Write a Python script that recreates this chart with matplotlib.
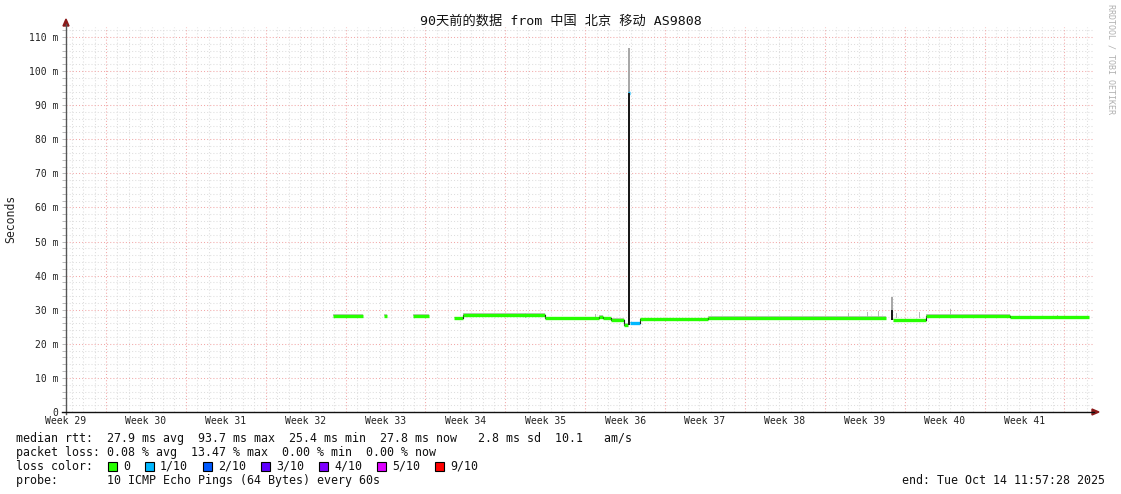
import matplotlib.pyplot as plt
from matplotlib.lines import Line2D
from matplotlib.patches import Polygon, Rectangle

# ==========================================
# CONFIG
# ==========================================
W, H = 1121, 494
plt.rcParams['font.family'] = ['DejaVu Sans Mono', 'Noto Sans CJK SC']

TITLE = "90天前的数据 from 中国 北京 移动 AS9808"
WEEK_LABELS = ["Week 29", "Week 30", "Week 31", "Week 32", "Week 33", "Week 34", "Week 35",
               "Week 36", "Week 37", "Week 38", "Week 39", "Week 40", "Week 41"]
Y_TICKS = [0, 10, 20, 30, 40, 50, 60, 70, 80, 90, 100, 110]
Y_LABELS = ["0", "10 m", "20 m", "30 m", "40 m", "50 m", "60 m", "70 m", "80 m", "90 m", "100 m", "110 m"]

# ==========================================
# DATA  (x = days since Jul 16 11:57:28, y = ms)
# ==========================================
seg_start = [23.42, 27.89, 30.44, 34.00, 34.79, 41.98, 46.71, 47.06, 47.76, 48.90, 49.25, 49.43,
             50.30, 56.26, 72.45, 75.37, 82.73]
seg_end = [26.00, 28.13, 31.79, 34.79, 41.98, 46.71, 47.06, 47.76, 48.90, 49.25, 49.43, 50.30,
           56.26, 71.86, 75.37, 82.73, 89.65]
seg_median = [28.1, 28.3, 28.3, 27.5, 28.4, 27.5, 27.9, 27.5, 27.1, 25.6, 93.7, 26.0,
              27.2, 27.7, 26.9, 28.3, 27.8]
seg_smoke_hi = [28.7, 28.8, 28.8, 28.0, 28.9, 28.0, 28.5, 28.0, 27.6, 26.1, 94.0, 26.5,
                27.7, 28.2, 27.4, 28.7, 28.3]
seg_loss = [0, 0, 0, 0, 0, 0, 0, 0, 0, 0, 1, 1, 0, 0, 0, 0, 0]

# big spikes: dark column + smoke above
spike_day = [49.34, 72.36]
spike_lo = [25.6, 26.9]
spike_hi = [93.7, 30.0]
spike_smoke = [106.7, 33.8]

# small smoke spikes
smoke_day = [40.3, 46.4, 68.6, 70.2, 71.2, 72.8, 74.8, 77.5, 86.9]
smoke_top = [29.1, 28.6, 29.1, 29.2, 29.5, 29.0, 29.4, 30.2, 28.5]

LOSS_LABELS = ["0", "1/10", "2/10", "3/10", "4/10", "5/10", "9/10"]
LOSS_COLORS = ["#26ff00", "#00b8ff", "#0059ff", "#5e00ff", "#7e00ff", "#dd00ff", "#ff0000"]

STATS = [
    "median rtt:  27.9 ms avg  93.7 ms max  25.4 ms min  27.8 ms now   2.8 ms sd  10.1   am/s",
    "packet loss: 0.08 % avg  13.47 % max  0.00 % min  0.00 % now",
    "loss color:",
    "probe:       10 ICMP Echo Pings (64 Bytes) every 60s",
]
END_TEXT = "end: Tue Oct 14 11:57:28 2025"


def fx(x):
    return x / W


def fy(y):
    return 1 - y / H


# ==========================================
# FIGURE
# ==========================================
fig = plt.figure(figsize=(W / 100, H / 100), dpi=100)
ax = fig.add_axes([fx(66), fy(412), (1093 - 66) / W, (412 - 27) / H])
ax.set_xlim(0, 90)
ax.set_ylim(0, 112.93)
for s in ax.spines.values():
    s.set_visible(False)

# grid: days / weeks (Sunday) and 2 ms / 10 ms
dot = (0, (1, 2))
for k in range(90):
    d = 0.5018 + k
    major = (k - 3) % 7 == 0
    ax.axvline(d, color="#f2a8a8" if major else "#dedede", lw=0.75, ls=dot,
               zorder=1 if major else 0)
for v in range(2, 113, 2):
    major = v % 10 == 0
    ax.axhline(v, color="#f2a8a8" if major else "#dedede", lw=0.75, ls=dot,
               zorder=1 if major else 0)

# smoke
for s, e, m, hi in zip(seg_start, seg_end, seg_median, seg_smoke_hi):
    ax.fill_between([s, e], [m, m], [hi, hi], color="#c4c4c4", lw=0, zorder=2)
for d, t in zip(smoke_day, smoke_top):
    ax.bar(d, t - 27.5, bottom=27.5, width=0.09, color="#b8b8b8", lw=0, zorder=2)
for d, lo, hi, top in zip(spike_day, spike_lo, spike_hi, spike_smoke):
    ax.bar(d, top - hi, bottom=hi, width=0.16, color="#a8a8a8", lw=0, zorder=2)
    ax.bar(d, hi - lo, bottom=lo, width=0.16, color="#1a1a1a", lw=0, zorder=4)

# median line coloured by loss
for i, (s, e, m, l) in enumerate(zip(seg_start, seg_end, seg_median, seg_loss)):
    ax.plot([s, e], [m, m], color=LOSS_COLORS[l], lw=2.4, solid_capstyle="butt", zorder=3)
    if i + 1 < len(seg_start) and abs(seg_start[i + 1] - e) < 0.01 and seg_median[i + 1] < 60 and m < 60:
        ax.plot([e, e], [m, seg_median[i + 1]], color="#202020", lw=0.8, zorder=3)

# ticks / labels
ax.set_yticks(Y_TICKS, Y_LABELS)
ax.set_yticks(range(0, 113, 2), minor=True)
ax.tick_params(axis="y", which="both", length=3, color="#bbbbbb", width=0.7, pad=2.5,
               labelsize=7, labelcolor="#222222")
ax.set_xticks([0.0018 + 7 * k for k in range(13)], WEEK_LABELS)
ax.tick_params(axis="x", length=0, pad=3, labelsize=7, labelcolor="#222222")
ax.set_xticks([], minor=True)

fig.text(fx(11), fy(219), "Seconds", rotation=90, ha="center", va="center", fontsize=8.3,
         color="#222222")
fig.text(fx(560.5), fy(21), TITLE, ha="center", va="center", fontsize=9.5, color="#111111")
fig.text(fx(1111), fy(4), "RRDTOOL / TOBI OETIKER", rotation=270, ha="center", va="top",
         fontsize=6.0, color="#b0b0b0")

# axes with arrows
fig.add_artist(Line2D([fx(66), fx(66)], [fy(414), fy(24)], color="#555555", lw=1))
fig.add_artist(Line2D([fx(62), fx(1094)], [fy(412), fy(412)], color="#111111", lw=1))
fig.add_artist(Polygon([(fx(66), fy(19)), (fx(63), fy(26)), (fx(69), fy(26))],
                       closed=True, color="#8b1a1a", transform=fig.transFigure))
fig.add_artist(Polygon([(fx(1099), fy(412)), (fx(1092), fy(409)), (fx(1092), fy(415))],
                       closed=True, color="#8b1a1a", transform=fig.transFigure))

# legend text
for i, line in enumerate(STATS):
    fig.text(fx(16), fy(438 + 14 * i), line, ha="left", va="center", fontsize=8.4, color="#111111")
fig.text(fx(1105), fy(480), END_TEXT, ha="right", va="center", fontsize=8.4, color="#111111")

for i, (lab, col) in enumerate(zip(LOSS_LABELS, LOSS_COLORS)):
    lx = 123 if i == 0 else 160 + 58 * (i - 1)
    fig.add_artist(Rectangle((fx(lx - 15), fy(470.5)), 9 / W, 9 / H, facecolor=col,
                             edgecolor="#000000", lw=0.8, transform=fig.transFigure))
    fig.text(fx(lx), fy(466), lab, ha="left", va="center", fontsize=8.4, color="#111111")

fig.savefig("out.png", dpi=100)
